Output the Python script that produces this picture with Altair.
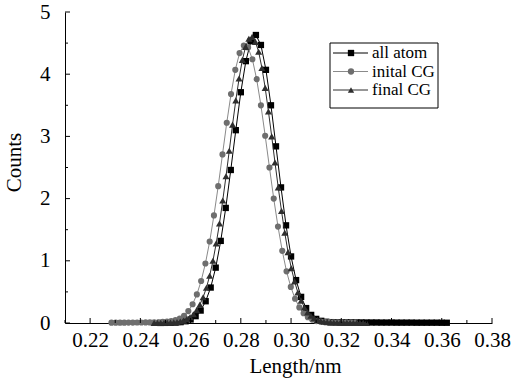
import altair as alt
import pandas as pd

series_names = ["all atom", "inital CG", "final CG"]

aa_x = [0.248, 0.250, 0.252, 0.254, 0.256, 0.258, 0.260, 0.262, 0.264, 0.266,
        0.268, 0.270, 0.272, 0.274, 0.276, 0.278, 0.280, 0.282, 0.284, 0.286,
        0.288, 0.290, 0.292, 0.294, 0.296, 0.298, 0.300, 0.302, 0.304, 0.306,
        0.308, 0.310, 0.312, 0.314, 0.316, 0.318, 0.320, 0.322, 0.324, 0.326,
        0.328, 0.330, 0.332, 0.334, 0.336, 0.338, 0.340, 0.342, 0.344, 0.346,
        0.348, 0.350, 0.352, 0.354, 0.356, 0.358, 0.360, 0.362]
aa_y = [0.001, 0.002, 0.004, 0.007, 0.014, 0.028, 0.057, 0.11, 0.20, 0.35,
        0.57, 0.89, 1.32, 1.85, 2.46, 3.10, 3.71, 4.21, 4.53, 4.63,
        4.47, 4.07, 3.50, 2.84, 2.18, 1.57, 1.07, 0.69, 0.42, 0.24,
        0.13, 0.066, 0.035, 0.020, 0.014, 0.012, 0.011, 0.010, 0.010, 0.009,
        0.009, 0.008, 0.008, 0.008, 0.007, 0.007, 0.007, 0.006, 0.006, 0.006,
        0.006, 0.005, 0.005, 0.005, 0.005, 0.005, 0.004, 0.004]

ic_x = [0.2285, 0.2302, 0.2319, 0.2336, 0.2353, 0.2370, 0.2387, 0.2404, 0.2421, 0.2438,
        0.2455, 0.2472, 0.2489, 0.2506, 0.2523, 0.2540, 0.2557, 0.2574, 0.2591, 0.2608,
        0.2625, 0.2642, 0.2659, 0.2676, 0.2693, 0.2710, 0.2727, 0.2744, 0.2761, 0.2778,
        0.2795, 0.2812, 0.2829, 0.2846, 0.2863, 0.2880, 0.2897, 0.2914, 0.2931, 0.2948,
        0.2965, 0.2982, 0.2999, 0.3016, 0.3033, 0.3050, 0.3067, 0.3084, 0.3101, 0.3118,
        0.3135, 0.3152, 0.3169, 0.3186, 0.3203, 0.3220, 0.3237, 0.3254]
ic_y = [0.005, 0.005, 0.006, 0.006, 0.007, 0.007, 0.008, 0.008, 0.009, 0.010,
        0.011, 0.012, 0.017, 0.021, 0.030, 0.045, 0.072, 0.117, 0.191, 0.302,
        0.46, 0.675, 0.957, 1.31, 1.73, 2.20, 2.71, 3.22, 3.68, 4.07,
        4.34, 4.46, 4.43, 4.24, 3.92, 3.50, 3.01, 2.50, 2.00, 1.55,
        1.16, 0.83, 0.58, 0.39, 0.25, 0.157, 0.094, 0.055, 0.031, 0.022,
        0.016, 0.013, 0.011, 0.010, 0.009, 0.008, 0.007, 0.006]

fc_x = [0.2455, 0.2468, 0.2481, 0.2494, 0.2507, 0.2520, 0.2533, 0.2546, 0.2559, 0.2572,
        0.2585, 0.2598, 0.2611, 0.2624, 0.2637, 0.2650, 0.2663, 0.2676, 0.2689, 0.2702,
        0.2715, 0.2728, 0.2741, 0.2754, 0.2767, 0.2780, 0.2793, 0.2806, 0.2819, 0.2832,
        0.2845, 0.2858, 0.2871, 0.2884, 0.2897, 0.2910, 0.2923, 0.2936, 0.2949, 0.2962,
        0.2975, 0.2988, 0.3001, 0.3014, 0.3027, 0.3040, 0.3053, 0.3066, 0.3079, 0.3092,
        0.3105, 0.3118, 0.3131, 0.3144, 0.3157, 0.3170, 0.3183, 0.3196, 0.3209, 0.3222,
        0.3235, 0.3248, 0.3261, 0.3274, 0.3287, 0.3300]
fc_y = [0.002, 0.003, 0.004, 0.005, 0.006, 0.008, 0.011, 0.015, 0.025, 0.039,
        0.062, 0.094, 0.141, 0.207, 0.295, 0.414, 0.567, 0.76, 1.00, 1.28,
        1.60, 1.97, 2.36, 2.77, 3.19, 3.58, 3.93, 4.23, 4.44, 4.57,
        4.60, 4.52, 4.36, 4.10, 3.78, 3.40, 3.00, 2.58, 2.18, 1.80,
        1.45, 1.14, 0.88, 0.67, 0.49, 0.36, 0.25, 0.17, 0.117, 0.078,
        0.050, 0.032, 0.020, 0.014, 0.011, 0.009, 0.008, 0.007, 0.006, 0.006,
        0.005, 0.005, 0.004, 0.004, 0.003, 0.003]

x_major = [0.22, 0.24, 0.26, 0.28, 0.30, 0.32, 0.34, 0.36, 0.38]
x_minor = [0.21, 0.23, 0.25, 0.27, 0.29, 0.31, 0.33, 0.35, 0.37]
y_major = [0, 1, 2, 3, 4, 5]
y_minor = [0.5, 1.5, 2.5, 3.5, 4.5]

marker_colors = ["#000000", "#6e6e6e", "#2e2e2e"]
line_colors = ["#000000", "#8a8a8a", "#2e2e2e"]
shapes = ["square", "circle", "triangle-up"]
sizes = [40, 38, 50]

FONT = "Liberation Serif"
W, H = 427, 311

x_scale = alt.Scale(domain=[0.21, 0.38], nice=False, zero=False)
y_scale = alt.Scale(domain=[0, 5], nice=False, zero=False)

x_axis = alt.Axis(values=x_major, format=".2f", title="Length/nm", grid=False,
                  ticks=False, tickSize=0, labelPadding=6, domainColor="black",
                  domainWidth=1, labelFont=FONT, labelFontSize=21, labelColor="black",
                  titleFont=FONT, titleFontSize=21, titleFontWeight="normal",
                  titleColor="black", titleX=230, titleY=49, titleBaseline="alphabetic",
                  labelFlush=False, labelOverlap=False)
y_axis = alt.Axis(values=y_major, format="d", title="Counts", grid=False,
                  ticks=False, tickSize=0, labelPadding=15, domainColor="black",
                  domainWidth=1, labelFont=FONT, labelFontSize=21, labelColor="black",
                  titleFont=FONT, titleFontSize=21, titleFontWeight="normal",
                  titleColor="black", titleX=-45, titleY=150, titleBaseline="alphabetic",
                  labelFlush=False, labelOverlap=False)

xs = [aa_x, ic_x, fc_x]
ys = [aa_y, ic_y, fc_y]

layers = []
for i, name in enumerate(series_names):
    df = pd.DataFrame({"length": xs[i], "count": ys[i], "series": name})
    base = alt.Chart(df).encode(
        x=alt.X("length:Q", scale=x_scale, axis=x_axis),
        y=alt.Y("count:Q", scale=y_scale, axis=y_axis),
    )
    layers.append(base.mark_line(color=line_colors[i], strokeWidth=1))
    layers.append(base.mark_point(shape=shapes[i], filled=True, size=sizes[i],
                                  color=marker_colors[i], opacity=1))

def xtick(vals, length):
    return alt.Chart(pd.DataFrame({"t": vals})).mark_rule(color="black", strokeWidth=1).encode(
        x=alt.X("t:Q", scale=x_scale, axis=x_axis),
        y=alt.value(H), y2=alt.value(H - length))

def ytick(vals, length):
    return alt.Chart(pd.DataFrame({"t": vals})).mark_rule(color="black", strokeWidth=1).encode(
        y=alt.Y("t:Q", scale=y_scale, axis=y_axis),
        x=alt.value(0), x2=alt.value(length))

layers += [xtick(x_major, 5), xtick(x_minor, 3), ytick(y_major, 5), ytick(y_minor, 3)]

data_group = alt.layer(*layers)

leg_df = pd.DataFrame({"label": series_names})
leg_y = alt.Y("label:N", scale=alt.Scale(type="point", domain=series_names,
                                         range=[41, 78], padding=0), axis=None)
box = alt.Chart(pd.DataFrame({"a": [0]})).mark_rect(fill="white", stroke="black", strokeWidth=1).encode(
    x=alt.value(265), x2=alt.value(373), y=alt.value(31), y2=alt.value(96))
leg_line = alt.Chart(leg_df).mark_rule(strokeWidth=1).encode(
    x=alt.value(268), x2=alt.value(303), y=leg_y,
    color=alt.Color("label:N", scale=alt.Scale(domain=series_names, range=line_colors), legend=None))
leg_pt = alt.Chart(leg_df).mark_point(filled=True, size=40, opacity=1).encode(
    x=alt.value(286), y=leg_y,
    color=alt.Color("label:N", scale=alt.Scale(domain=series_names, range=marker_colors), legend=None),
    shape=alt.Shape("label:N", scale=alt.Scale(domain=series_names, range=shapes), legend=None))
leg_txt = alt.Chart(leg_df).mark_text(align="left", baseline="middle", font=FONT,
                                       fontSize=17, color="black").encode(
    x=alt.value(307), y=leg_y, text="label:N")
legend_group = alt.layer(box, leg_line, leg_pt, leg_txt).resolve_scale(color="independent")

chart = alt.layer(data_group, legend_group).resolve_scale(
    y="independent", color="independent", shape="independent"
).properties(
    width=W, height=H,
    autosize=alt.AutoSizeParams(type="none"),
    padding={"left": 65, "top": 12, "right": 25, "bottom": 60},
    background="white",
).configure_view(stroke=None)

chart.save("out.html", embed_options={"renderer": "svg", "actions": False})
